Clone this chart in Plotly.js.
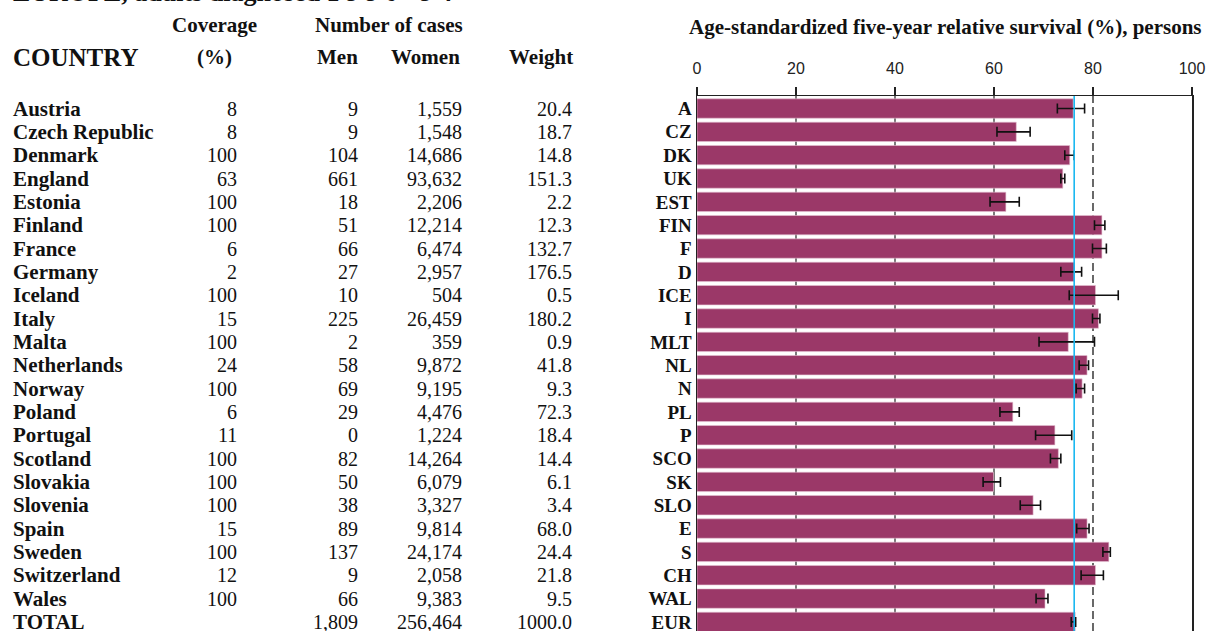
<!DOCTYPE html>
<html>
<head>
<meta charset="utf-8">
<script src="https://cdn.plot.ly/plotly-3.0.1.min.js"></script>
<style>html,body{margin:0;padding:0;background:#fff;}#chart{width:1208px;height:631px;}</style>
</head>
<body>
<div id="chart"></div>
<script>
// ---- data ----
const countries = ['Austria','Czech Republic','Denmark','England','Estonia','Finland','France','Germany','Iceland','Italy','Malta','Netherlands','Norway','Poland','Portugal','Scotland','Slovakia','Slovenia','Spain','Sweden','Switzerland','Wales','TOTAL'];
const codes = ['A','CZ','DK','UK','EST','FIN','F','D','ICE','I','MLT','NL','N','PL','P','SCO','SK','SLO','E','S','CH','WAL','EUR'];
const coverage = ['8','8','100','63','100','100','6','2','100','15','100','24','100','6','11','100','100','100','15','100','12','100',''];
const menCases = ['9','9','104','661','18','51','66','27','10','225','2','58','69','29','0','82','50','38','89','137','9','66','1,809'];
const womenCases = ['1,559','1,548','14,686','93,632','2,206','12,214','6,474','2,957','504','26,459','359','9,872','9,195','4,476','1,224','14,264','6,079','3,327','9,814','24,174','2,058','9,383','256,464'];
const weight = ['20.4','18.7','14.8','151.3','2.2','12.3','132.7','176.5','0.5','180.2','0.9','41.8','9.3','72.3','18.4','14.4','6.1','3.4','68.0','24.4','21.8','9.5','1000.0'];
const survival = [76.0, 64.5, 75.3, 73.9, 62.4, 81.8, 81.8, 76.2, 80.5, 81.1, 75.0, 78.8, 77.8, 63.8, 72.3, 73.0, 59.9, 67.9, 78.8, 83.2, 80.5, 70.3, 76.4];
const ciLow  = [72.8, 60.6, 74.3, 73.5, 59.2, 80.3, 79.9, 73.5, 75.2, 79.9, 69.1, 77.2, 76.6, 61.2, 68.4, 71.4, 57.8, 65.3, 76.7, 82.0, 77.6, 68.5, 75.6];
const ciHigh = [78.3, 67.3, 76.2, 74.3, 65.1, 82.4, 82.7, 77.7, 85.1, 81.4, 80.3, 79.1, 78.3, 65.1, 75.7, 73.5, 61.3, 69.4, 79.2, 83.5, 82.1, 70.9, 76.5];
const europeMean = 76.2;
const referenceLine = 80;
const xTicks = [0, 20, 40, 60, 80, 100];
const gridMarks = [20, 40, 60];

// ---- layout geometry ----
const W = 1208, H = 631;
const L = 697, R = 16, T = 96, B = 0;
const plotW = W - L - R, plotH = H - T - B;
const px = p => (p - L) / plotW;          // pixel x -> paper x
const py = p => (H - B - p) / plotH;      // pixel y -> paper y

const serif = 'Liberation Serif, Times New Roman, serif';
const sans = 'Liberation Sans, Arial, sans-serif';

const trace = {
  type: 'bar',
  orientation: 'h',
  x: survival,
  y: codes,
  marker: {color: '#9b3868', line: {color: '#e6c3d4', width: 0.6}},
  error_x: {
    type: 'data', symmetric: false,
    array: survival.map((v, i) => Math.max(0, ciHigh[i] - v)),
    arrayminus: survival.map((v, i) => Math.max(0, v - ciLow[i])),
    color: '#111', thickness: 1.6, width: 5
  },
  hoverinfo: 'x+y'
};

const annotations = [];
const cell = (text, xPix, y, anchor, bold, yref, size) => annotations.push({
  text: text, x: px(xPix), xref: 'paper', y: y, yref: yref || 'y',
  xanchor: anchor, yanchor: 'middle', showarrow: false,
  font: {family: serif, size: size || 20, color: '#111', weight: bold ? 'bold' : 'normal'}
});
countries.forEach((c, i) => {
  cell(c, 11, codes[i], 'left', true, 'y', 21);
  cell(coverage[i], 239, codes[i], 'right', false);
  cell(menCases[i], 360, codes[i], 'right', false);
  cell(womenCases[i], 464, codes[i], 'right', false);
  cell(weight[i], 574, codes[i], 'right', false);
});
// headers
cell('Coverage', 214, py(25), 'center', true, 'paper', 21);
cell('Number of cases', 389, py(25), 'center', true, 'paper', 21);
cell('(%)', 214, py(57), 'center', true, 'paper', 21);
cell('Men', 337, py(57), 'center', true, 'paper', 21);
cell('Women', 425, py(57), 'center', true, 'paper', 21);
cell('Weight', 541, py(57), 'center', true, 'paper', 21);
annotations.push({text: 'COUNTRY', x: px(11), xref: 'paper', y: py(57), yref: 'paper',
  xanchor: 'left', yanchor: 'middle', showarrow: false,
  font: {family: serif, size: 25, color: '#111', weight: 'bold'}});
annotations.push({text: 'Age-standardized five-year relative survival (%), persons',
  x: px(945), xref: 'paper', y: py(27), yref: 'paper', xanchor: 'center', yanchor: 'middle',
  showarrow: false, font: {family: serif, size: 21, color: '#111', weight: 'bold'}});
// cut-off page heading
annotations.push({text: 'EUROPE, adults diagnosed 1 9 9 0 - 9 4',
  x: px(11), xref: 'paper', y: py(9), yref: 'paper', xanchor: 'left', yanchor: 'bottom',
  showarrow: false, font: {family: serif, size: 26, color: '#111', weight: 'bold'}});

const shapes = [];
gridMarks.forEach(g => shapes.push({type: 'line', xref: 'x', yref: 'paper', x0: g, x1: g, y0: 0, y1: 1,
  layer: 'below', line: {color: '#222', width: 1.2}}));
shapes.push({type: 'line', xref: 'x', yref: 'paper', x0: referenceLine, x1: referenceLine, y0: 0, y1: 1,
  layer: 'below', line: {color: '#444', width: 1.6, dash: '8px,4px'}});
shapes.push({type: 'line', xref: 'x', yref: 'paper', x0: europeMean, x1: europeMean, y0: 0, y1: 1,
  layer: 'above', line: {color: '#19b8f0', width: 1.6}});

const layout = {
  width: W, height: H,
  margin: {l: L, r: R, t: T, b: B, pad: 0},
  paper_bgcolor: '#fff', plot_bgcolor: '#fff',
  showlegend: false,
  bargap: 0.17,
  xaxis: {
    side: 'top', range: [0, 100], tickvals: xTicks, ticks: 'outside', ticklen: 8,
    tickcolor: '#222', tickwidth: 1.3, showline: true, linecolor: '#222', linewidth: 1.5,
    showgrid: false, zeroline: false, fixedrange: true, ticklabelstandoff: 6,
    tickfont: {family: sans, size: 16, color: '#222'}
  },
  yaxis: {
    type: 'category', categoryarray: codes, categoryorder: 'array',
    range: [22.39, -0.536], showline: true, mirror: true, linecolor: '#222', linewidth: 1.5,
    ticks: '', showgrid: false, zeroline: false, fixedrange: true,
    tickfont: {family: serif, size: 19, color: '#111', weight: 'bold'}
  },
  annotations: annotations,
  shapes: shapes
};

Plotly.newPlot('chart', [trace], layout, {displayModeBar: false, staticPlot: true});
</script>
</body>
</html>
